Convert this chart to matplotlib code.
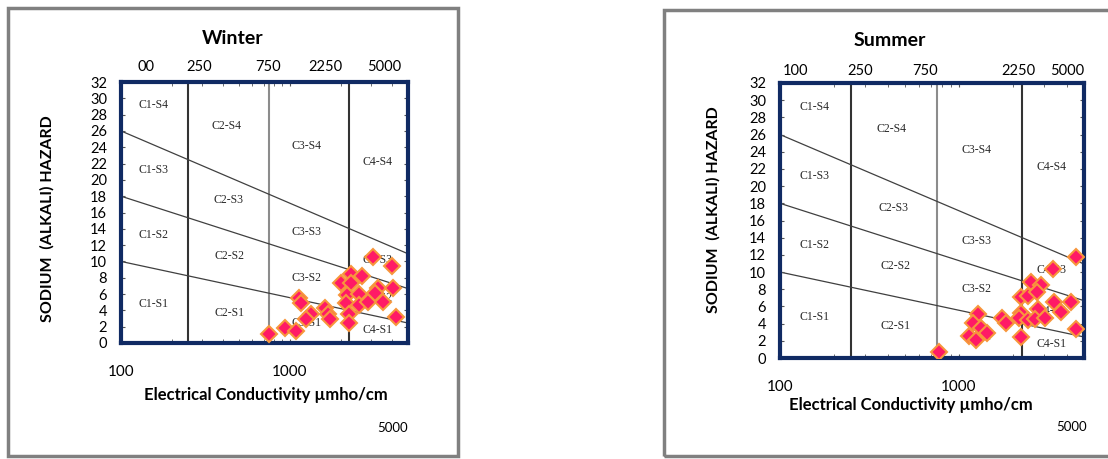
import numpy as np
import matplotlib.pyplot as plt
from matplotlib.patches import Rectangle
from matplotlib.ticker import NullFormatter

plt.rcParams['font.family'] = ['Lato', 'DejaVu Sans']

# Wilcox / USSL salinity-sodium diagram data
winter_ec = [750, 935, 1080, 1130, 1160, 1330, 1240, 1620, 1690, 1730,
             2010, 2290, 2290, 2175, 2140, 2230, 2245, 2660, 2570, 2570,
             2915, 3100, 3300, 3200, 3570, 4000, 4090, 4250]
winter_sar = [1.1, 1.8, 1.5, 5.55, 4.9, 3.6, 3.0, 4.25, 3.6, 3.0,
              7.3, 8.45, 7.4, 5.9, 4.95, 3.6, 2.4, 8.25, 5.95, 4.66,
              5.06, 10.5, 6.8, 6.1, 5.06, 9.5, 6.7, 3.2]

summer_ec = [770, 1280, 1205, 1330, 1430, 1140, 1250, 1730, 1836, 2210,
             2210, 2160, 2210, 2540, 2440, 2890, 2720, 2440, 2780, 2660,
             3040, 3360, 3400, 3740, 4220, 4530, 4530]
summer_sar = [0.66, 5.1, 4.1, 3.45, 2.9, 2.56, 2.1, 4.6, 4.1, 7.1,
              5.2, 4.6, 2.5, 8.9, 7.2, 8.5, 7.7, 4.4, 5.7, 4.5,
              4.6, 10.3, 6.55, 5.3, 6.55, 11.7, 3.4]

# salinity class limits and sodium hazard boundaries
class_limits = [250, 750, 2250]
limit_colors = ['#333333', '#8c8c8c', '#333333']
boundary_ec = [100, 5000]
s1_s2 = [10.0, 2.45]
s2_s3 = [18.0, 6.67]
s3_s4 = [26.0, 10.94]

zone_names = ['C1-S4', 'C2-S4', 'C3-S4', 'C4-S4',
              'C1-S3', 'C2-S3', 'C3-S3', 'C4-S3',
              'C1-S2', 'C2-S2', 'C3-S2', 'C4-S2',
              'C1-S1', 'C2-S1', 'C3-S1', 'C4-S1']
zone_ec = [156, 420, 1260, 3300,
           156, 430, 1260, 3300,
           156, 440, 1260, 3300,
           156, 440, 1260, 3300]
zone_sar = [29.2, 26.6, 24.2, 22.2,
            21.2, 17.5, 13.6, 10.2,
            13.2, 10.7, 8.0, 5.5,
            4.8, 3.7, 2.5, 1.6]

top_labels = ['100', '250', '750', '2250', '5000']

W, H = 1108, 459
fig = plt.figure(figsize=(W / 100, H / 100), dpi=100)


def px(x, y):
    return x / W, 1 - y / H


def panel(box, frame, title, title_xy, top_text, top_xs, top_y,
          ylab_xy, xlab_xy, note_xy, ec, sar):
    # grey outer frame
    x0, y0, x1, y1 = box
    fig.patches.append(Rectangle(px(x0, y1), (x1 - x0) / W, (y1 - y0) / H,
                                 transform=fig.transFigure, fill=False,
                                 edgecolor='#808080', linewidth=2.5))
    l, t, r, b = frame
    ax = fig.add_axes([l / W, 1 - b / H, (r - l) / W, (b - t) / H])
    ax.set_xscale('log')
    ax.set_xlim(100, 5000)
    ax.set_ylim(0, 32)

    for lim, c in zip(class_limits, limit_colors):
        ax.axvline(lim, color=c, linewidth=1.5, zorder=1)
    for yb in (s1_s2, s2_s3, s3_s4):
        ax.plot(boundary_ec, yb, color='#404040', linewidth=0.9, zorder=1)

    for name, zx, zy in zip(zone_names, zone_ec, zone_sar):
        ax.text(zx, zy, name, ha='center', va='center', fontsize=8.5,
                family='Liberation Serif', color='#2a2a2a', zorder=2)

    ax.plot(ec, sar, linestyle='none', marker='D', markersize=8,
            markerfacecolor='#ff1a66', markeredgecolor='#f7963c',
            markeredgewidth=1.5, zorder=3)

    ax.set_yticks(np.arange(0, 33, 2))
    ax.set_xticks([100, 1000])
    ax.set_xticklabels(['100', '1000'])
    ax.xaxis.set_minor_formatter(NullFormatter())
    ax.tick_params(axis='y', which='both', direction='in', length=3,
                   right=True, labelsize=10.5, pad=10, color='#555555')
    ax.tick_params(axis='x', which='both', direction='in', length=3,
                   top=True, labelsize=11, pad=16, color='#555555')
    for s in ax.spines.values():
        s.set_color('#102a63')
        s.set_linewidth(3)

    fig.text(*px(*title_xy), title, ha='center', va='center',
             fontsize=14, fontweight='bold')
    for lab, tx in zip(top_text, top_xs):
        fig.text(*px(tx, top_y), lab, ha='center', va='center', fontsize=10.5)
    fig.text(*px(*ylab_xy), 'SODIUM  (ALKALI) HAZARD', rotation=90,
             ha='center', va='center', fontsize=11.5, fontweight='bold')
    fig.text(*px(*xlab_xy), 'Electrical Conductivity µmho/cm',
             ha='center', va='center', fontsize=12, fontweight='bold')
    fig.text(*px(*note_xy), '5000', ha='center', va='center', fontsize=9.5)
    return ax


panel((8, 8, 458, 456), (121, 82, 408, 343), 'Winter', (233, 38),
      ['00'] + top_labels[1:], [146, 199, 268, 325, 384], 67,
      (47, 219), (266, 395), (393, 428), winter_ec, winter_sar)

panel((664, 10, 1120, 456), (780, 83, 1084, 358), 'Summer', (890, 41),
      top_labels, [795, 860, 925, 1018, 1067], 71,
      (713, 210), (911, 405), (1072, 427), summer_ec, summer_sar)

fig.savefig('out.png', dpi=100)
